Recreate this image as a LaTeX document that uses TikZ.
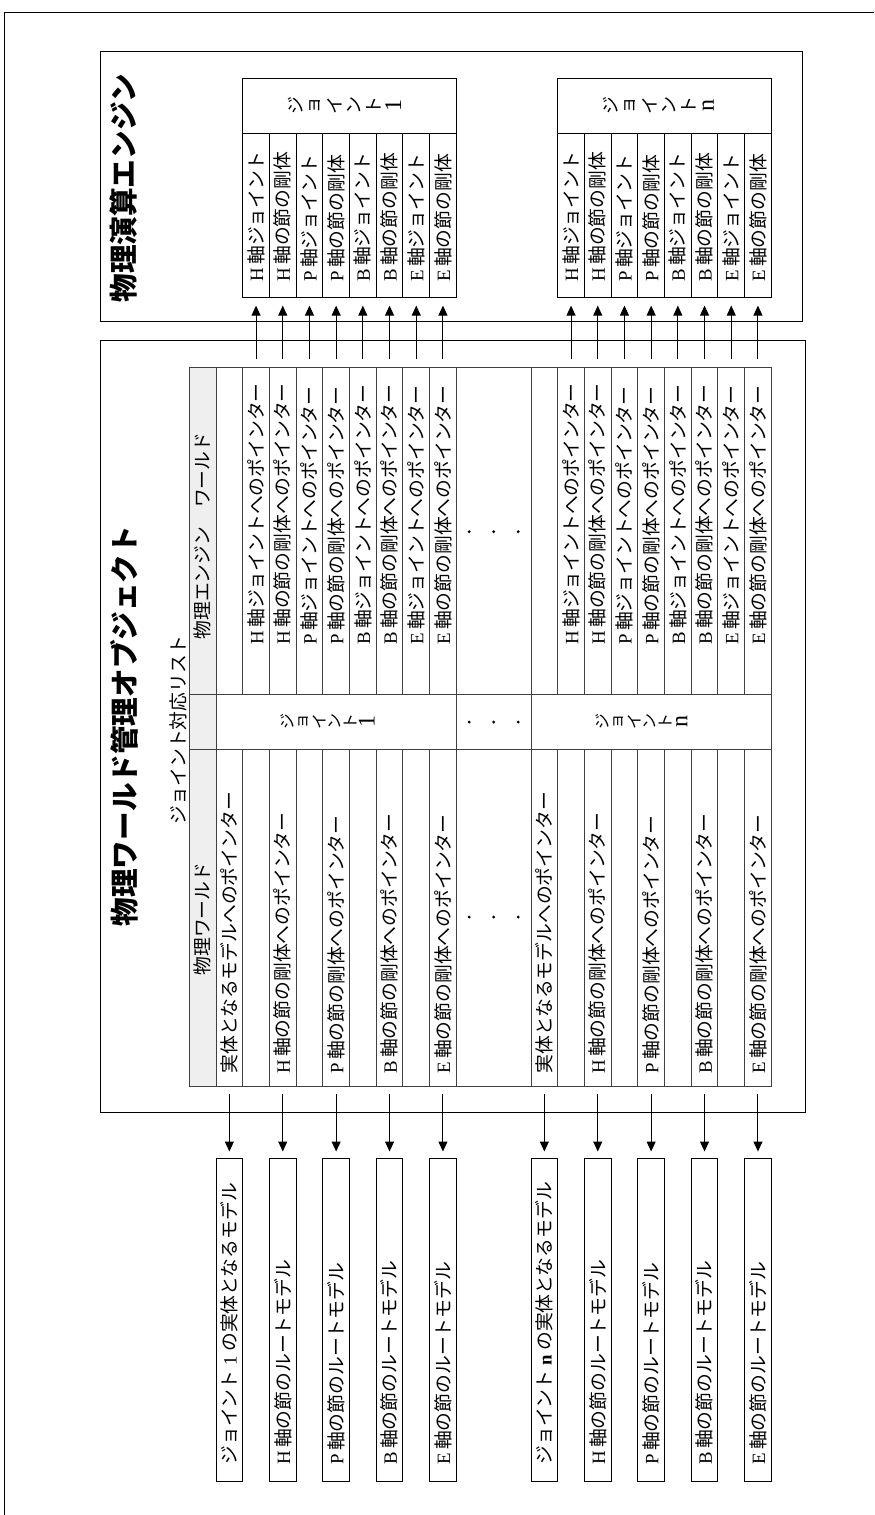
\documentclass[tikz,border=0pt]{standalone}
\usepackage{fontspec}
\setmainfont{Liberation Serif}
\newfontfamily\jp{Noto Sans CJK JP}
\usetikzlibrary{arrows.meta}
\newcommand\ltn[1]{{\rmfamily #1}}
\definecolor{hdrgray}{HTML}{EFEFEF}
\definecolor{tline}{HTML}{404040}
\begin{document}
\begin{tikzpicture}[x=0.5pt,y=-0.5pt,line width=0.5pt,
  sm/.style={font=\jp\fontsize{9.4}{11}\selectfont,inner sep=0pt},
  rt/.style={sm,rotate=90},
  ttl/.style={font=\jp\bfseries\fontsize{14.3}{16}\selectfont,inner sep=0pt,rotate=90},
  vch/.style={font=\jp\fontsize{8}{9}\selectfont,inner sep=0pt,rotate=90},
  vche/.style={font=\jp\fontsize{9}{10}\selectfont,inner sep=0pt,rotate=90},
  boxn/.style={draw,inner sep=0pt},
  arr/.style={-{Triangle[length=5pt,width=4.5pt]},line width=0.5pt}]
\useasboundingbox (0,0) rectangle (874,1515);
% page frame
\draw (4,1515) -- (4,12) -- (874,12);
% main frames
\draw (100.7,51) rectangle (802,321);
\draw (100,340) rectangle (805,1112);
\node[ttl] (etitle) at (124,188) {物理演算エンジン};
\node[ttl] (mtitle) at (124,726) {物理ワールド管理オブジェクト};
% table
\fill[hdrgray] (189.3,367.3) rectangle (216,1086.8);
\draw[tline] (189.3,367.3) rectangle (771.3,1086.8);
\draw[tline] (189.3,694) -- (771.3,694) (189.3,749.3) -- (771.3,749.3);
\draw[tline] (216,367.3) -- (216,1086.8) (456.3,367.3) -- (456.3,1086.8) (531,367.3) -- (531,1086.8);
\foreach \xb in {216,531}{
  \foreach \k in {1,...,8}{
    \draw[tline] (\xb+26.7*\k,367.3) -- (\xb+26.7*\k,694) (\xb+26.7*\k,749.3) -- (\xb+26.7*\k,1086.8);
  }
}
\node[rt] (jlist) at (178.5,730) {ジョイント対応リスト};
\node[rt] (hdrE) at (202.65,536) {物理エンジン　ワールド};
\node[rt] (hdrP) at (202.65,919) {物理ワールド};
% dots
\foreach \yy in {531.7,722,917}{
  \foreach \dx in {-24.5,0,24.5}{
    \fill (493.65+\dx,\yy) circle (0.8pt);
  }
}
\foreach \g/\xb/\last/\lastb in {1/216/1/1,n/531/n/\textbf{n}}{
  % engine world rows
  \foreach \k/\lab in {2/{\ltn{H}\,軸ジョイントへのポインター},3/{\ltn{H}\,軸の節の剛体へのポインター},
      4/{\ltn{P}\,軸ジョイントへのポインター},5/{\ltn{P}\,軸の節の剛体へのポインター},
      6/{\ltn{B}\,軸ジョイントへのポインター},7/{\ltn{B}\,軸の節の剛体へのポインター},
      8/{\ltn{E}\,軸ジョイントへのポインター},9/{\ltn{E}\,軸の節の剛体へのポインター}}{
    \node[rt,anchor=west] (rw\g-\k) at (\xb+26.7*\k-13.35,645) {\lab};
  }
  % physics world rows
  \foreach \k/\lab in {1/{実体となるモデルへのポインター},3/{\ltn{H}\,軸の節の剛体へのポインター},
      5/{\ltn{P}\,軸の節の剛体へのポインター},7/{\ltn{B}\,軸の節の剛体へのポインター},
      9/{\ltn{E}\,軸の節の剛体へのポインター}}{
    \node[rt,anchor=west] (pw\g-\k) at (\xb+26.7*\k-13.35,1074) {\lab};
  }
  % joint label in table
  \foreach \c [count=\i] in {ジ,ョ,イ,ン,ト,\ltn{\large\last}}{
    \node[vch] (tj\g-\i) at (\xb+120.15-9+15.8*\i-55.3,721.65) {\c};
  }
  % engine group
  \node[boxn,minimum width=106.8pt,minimum height=27.5pt] (eh\g) at (\xb+133.5,105.8) {};
  \foreach \c [count=\i] in {ジ,ョ,イ,ン,ト,\ltn{\large\last}}{
    \node[vche] (ej\g-\i) at (\xb+133.5-5+19.5*\i-68.25,105.8) {\c};
  }
  \foreach \k/\lab in {2/{\ltn{H}\,軸ジョイント},3/{\ltn{H}\,軸の節の剛体},
      4/{\ltn{P}\,軸ジョイント},5/{\ltn{P}\,軸の節の剛体},
      6/{\ltn{B}\,軸ジョイント},7/{\ltn{B}\,軸の節の剛体},
      8/{\ltn{E}\,軸ジョイント},9/{\ltn{E}\,軸の節の剛体}}{
    \node[boxn,minimum width=13.35pt,minimum height=82pt] (e\g-\k) at (\xb+26.7*\k-13.35,215.3) {};
    \node[rt,anchor=west] (et\g-\k) at (\xb+26.7*\k-13.35,282) {\lab};
    \coordinate (tt\g-\k) at (\xb+26.7*\k-13.35,367.3);
    \draw[arr,shorten <=4pt,shorten >=3.9pt] (tt\g-\k) -- (e\g-\k.south);
  }
  % bottom model boxes
  \foreach \k/\lab in {1/{ジョイント\hspace{0.25em}\ltn{\lastb}\hspace{0.25em}の実体となるモデル},
      3/{\ltn{H}\,軸の節のルートモデル},5/{\ltn{P}\,軸の節のルートモデル},
      7/{\ltn{B}\,軸の節のルートモデル},9/{\ltn{E}\,軸の節のルートモデル}}{
    \node[boxn,minimum width=13.35pt,minimum height=161.85pt] (b\g-\k) at (\xb+26.7*\k-13.35,1319.85) {};
    \node[rt,anchor=west] (bt\g-\k) at (\xb+26.7*\k-13.35,1465) {\lab};
    \coordinate (tb\g-\k) at (\xb+26.7*\k-13.35,1086.8);
    \draw[arr,shorten <=3.5pt,shorten >=3pt] (tb\g-\k) -- (b\g-\k.north);
  }
}
\end{tikzpicture}
\end{document}
